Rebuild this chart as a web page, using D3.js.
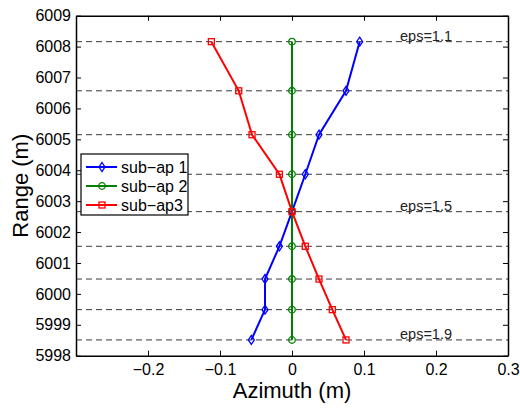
<!DOCTYPE html>
<html>
<head>
<meta charset="utf-8">
<script src="https://cdn.jsdelivr.net/npm/d3@7"></script>
<style>
  body { margin: 0; background: #fff; }
  text { font-family: "Liberation Sans", Arial, sans-serif; }
</style>
</head>
<body>
<div id="chart"></div>
<script>
// range levels (m), one per dashed line
const ranges = [6008.16, 6006.57, 6005.15, 6003.87, 6002.66, 6001.54, 6000.48, 5999.49, 5998.51];
// azimuth offsets (m) for each sub-aperture
const subAp1 = [0.094, 0.075, 0.0375, 0.0185, 0, -0.0175, -0.0375, -0.0375, -0.0565];
const subAp2 = [0, 0, 0, 0, 0, 0, 0, 0, 0];
const subAp3 = [-0.112, -0.074, -0.0555, -0.0175, 0, 0.0185, 0.0375, 0.056, 0.075];
const seriesNames = ["sub-ap 1", "sub-ap 2", "sub-ap3"];
const xTicks = [-0.2, -0.1, 0, 0.1, 0.2, 0.3];
const yTicks = [5998, 5999, 6000, 6001, 6002, 6003, 6004, 6005, 6006, 6007, 6008, 6009];
const epsLabels = [
  { text: "eps=1.1", range: 6008.16 },
  { text: "eps=1.5", range: 6002.66 },
  { text: "eps=1.9", range: 5998.51 }
];

const width = 520, height = 408;
const margin = { top: 15.7, right: 12, bottom: 52.3, left: 76 };

const x = d3.scaleLinear().domain([-0.3, 0.3]).range([margin.left, width - margin.right]);
const y = d3.scaleLinear().domain([5998, 6009]).range([height - margin.bottom, margin.top]);

const svg = d3.select("#chart").append("svg")
  .attr("width", width)
  .attr("height", height);

// dashed range lines
svg.append("g")
  .selectAll("line")
  .data(ranges)
  .join("line")
  .attr("x1", x(-0.3))
  .attr("x2", x(0.3))
  .attr("y1", d => y(d))
  .attr("y2", d => y(d))
  .attr("stroke", "#3a3a3a")
  .attr("stroke-width", 1)
  .attr("stroke-dasharray", "6,4");

// axes (ticks inward, box)
const tickLen = 5;
const xAxis = svg.append("g")
  .attr("transform", `translate(0,${y(5998)})`)
  .call(d3.axisBottom(x).tickValues(xTicks).tickSizeInner(-tickLen).tickSizeOuter(0).tickPadding(8)
    .tickFormat(d => d === 0 ? "0" : d3.format(".1f")(d).replace("-", "\u2212")));
const xAxisTop = svg.append("g")
  .attr("transform", `translate(0,${y(6009)})`)
  .call(d3.axisTop(x).tickValues(xTicks).tickSizeInner(-tickLen).tickSizeOuter(0).tickFormat(""));
const yAxis = svg.append("g")
  .attr("transform", `translate(${x(-0.3)},0)`)
  .call(d3.axisLeft(y).tickValues(yTicks).tickSizeInner(-tickLen).tickSizeOuter(0).tickPadding(5)
    .tickFormat(d3.format("d")));
const yAxisRight = svg.append("g")
  .attr("transform", `translate(${x(0.3)},0)`)
  .call(d3.axisRight(y).tickValues(yTicks).tickSizeInner(-tickLen).tickSizeOuter(0).tickFormat(""));

[xAxis, xAxisTop, yAxis, yAxisRight].forEach(g => {
  g.select(".domain").attr("stroke", "#000").attr("stroke-width", 1.5);
  g.selectAll(".tick line").attr("stroke", "#000");
  g.selectAll("text").attr("font-size", 16).attr("fill", "#000")
    .style("font-family", "'Liberation Sans', Arial, sans-serif");
});

// axis titles
svg.append("text")
  .attr("x", x(0))
  .attr("y", 398)
  .attr("text-anchor", "middle")
  .attr("font-size", 22)
  .text("Azimuth (m)");
svg.append("text")
  .attr("transform", `translate(28,${y(6003.5)}) rotate(-90)`)
  .attr("text-anchor", "middle")
  .attr("font-size", 22)
  .text("Range (m)");

// eps labels
svg.append("g")
  .selectAll("text")
  .data(epsLabels)
  .join("text")
  .attr("x", x(0.15))
  .attr("y", d => y(d.range) - 1)
  .attr("font-size", 14.5)
  .attr("fill", "#222")
  .text(d => d.text);

const series = [
  { name: seriesNames[0], values: subAp1, color: "#0000ff", marker: "diamond" },
  { name: seriesNames[1], values: subAp2, color: "#008000", marker: "circle" },
  { name: seriesNames[2], values: subAp3, color: "#ff0000", marker: "square" }
];

const line = d3.line()
  .x(d => x(d.az))
  .y(d => y(d.r));

function drawMarker(g, type, color) {
  if (type === "diamond") {
    g.append("path").attr("d", "M0,-4.5L3,0L0,4.5L-3,0Z");
  } else if (type === "circle") {
    g.append("circle").attr("r", 3.3);
  } else {
    g.append("rect").attr("x", -3).attr("y", -3).attr("width", 6).attr("height", 6);
  }
  g.selectAll("*").attr("fill", "none").attr("stroke", color).attr("stroke-width", 1.3);
}

series.forEach(s => {
  const pts = ranges.map((r, i) => ({ r, az: s.values[i] }));
  svg.append("path")
    .datum(pts)
    .attr("fill", "none")
    .attr("stroke", s.color)
    .attr("stroke-width", 2)
    .attr("d", line);
  svg.append("g")
    .selectAll("g")
    .data(pts)
    .join("g")
    .attr("transform", d => `translate(${x(d.az)},${y(d.r)})`)
    .each(function () { drawMarker(d3.select(this), s.marker, s.color); });
});

// legend
const legend = svg.append("g").attr("transform", "translate(81,154)");
legend.append("rect")
  .attr("width", 107)
  .attr("height", 61)
  .attr("fill", "#fff")
  .attr("stroke", "#000")
  .attr("stroke-width", 1.2);
series.forEach((s, i) => {
  const gy = 13 + i * 19;
  legend.append("line")
    .attr("x1", 5).attr("x2", 36)
    .attr("y1", gy).attr("y2", gy)
    .attr("stroke", s.color).attr("stroke-width", 2);
  const m = legend.append("g").attr("transform", `translate(21,${gy})`);
  drawMarker(m, s.marker, s.color);
  legend.append("text")
    .attr("x", 40)
    .attr("y", gy + 5.5)
    .attr("font-size", 16)
    .text(s.name.replace("-", "\u2212"));
});
</script>
</body>
</html>
